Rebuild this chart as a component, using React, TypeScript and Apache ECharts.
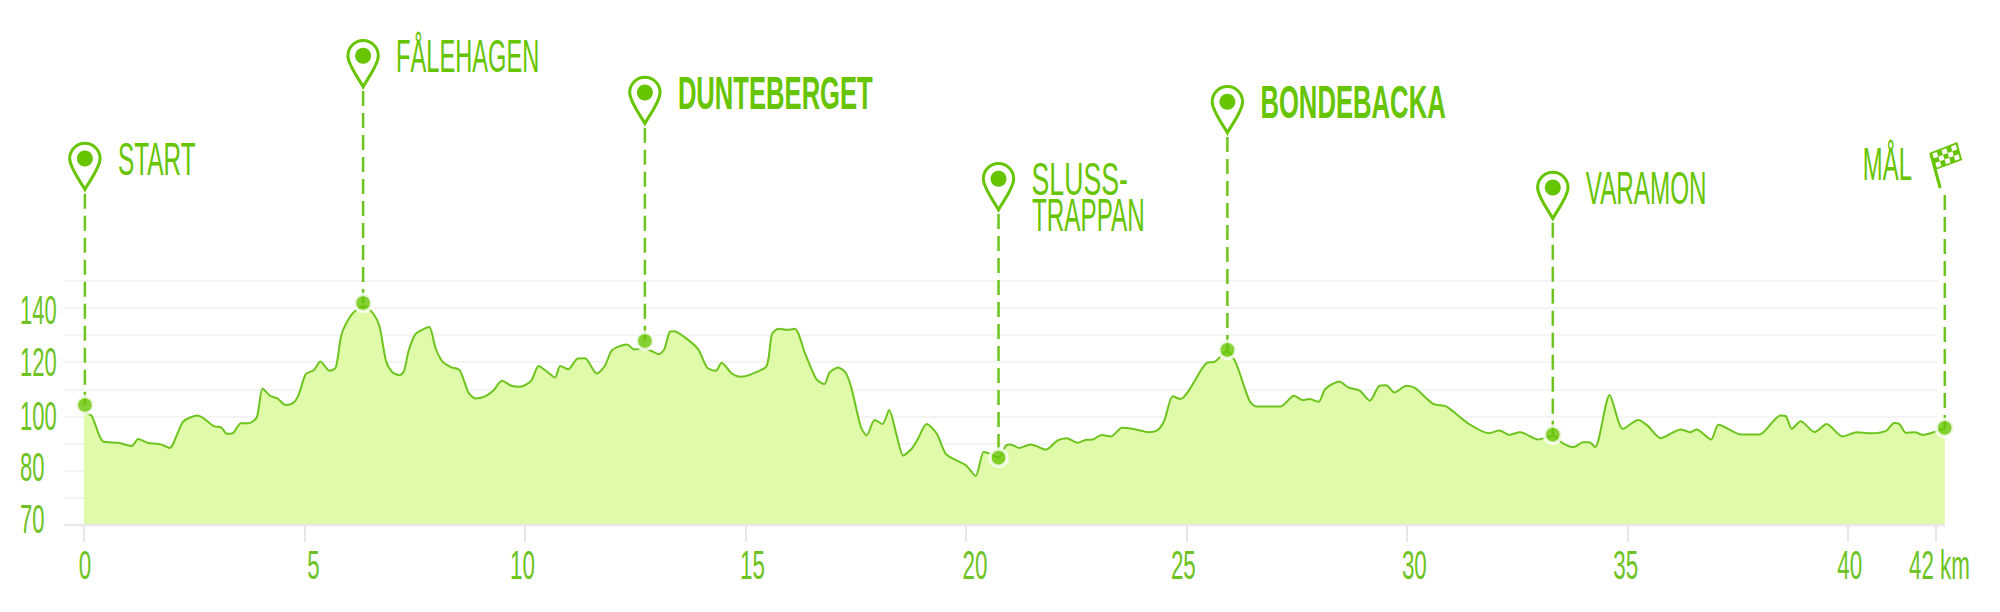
import React, { useEffect, useRef } from "react";
import * as echarts from "echarts";

const routeKm = [0,0.17,0.43,0.78,1.08,1.23,1.44,1.74,1.94,2.25,2.58,2.96,3.11,3.24,3.38,3.56,3.74,3.92,4.05,4.22,4.39,4.57,4.73,4.86,5.03,5.21,5.36,5.57,5.71,5.84,6.04,6.19,6.35,6.55,6.7,6.85,7,7.16,7.26,7.36,7.51,7.66,7.83,7.97,8.12,8.32,8.52,8.72,8.88,9.08,9.28,9.48,9.69,9.89,10.14,10.31,10.5,10.68,10.8,10.98,11.2,11.36,11.63,11.81,11.96,12.12,12.32,12.47,12.72,12.87,13.03,13.16,13.28,13.38,13.62,13.93,14.13,14.33,14.46,14.69,14.89,15.14,15.48,15.6,15.75,15.95,16.12,16.36,16.61,16.79,16.91,17.1,17.27,17.4,17.62,17.75,17.93,18.11,18.26,18.43,18.58,18.77,18.91,19.11,19.34,19.54,19.75,20,20.22,20.4,20.48,20.74,20.91,21.01,21.21,21.47,21.82,22.07,22.28,22.53,22.73,22.88,23.07,23.29,23.54,23.8,24.15,24.35,24.5,24.69,24.86,25.47,25.64,25.92,26.12,26.43,26.58,27.14,27.44,27.64,27.79,28,28.15,28.47,28.67,28.93,29.16,29.38,29.53,29.72,29.99,30.19,30.6,30.9,31.41,31.86,32.1,32.32,32.57,32.98,33.31,33.53,33.79,33.99,34.14,34.27,34.6,34.9,35.25,35.46,35.76,36.21,36.42,36.57,36.9,37.07,37.58,37.99,38.47,38.6,38.73,38.93,39.25,39.52,39.88,40.21,40.52,40.87,41.05,41.17,41.32,41.52,41.7,41.98,42.2];
const elevation = [101,100.3,90.8,90.3,89.1,91.7,90.3,89.7,88.4,98.1,100.3,96.3,96,93.6,93.9,97.5,97.5,99.7,110.3,107.6,106.6,104.2,104.8,107.6,115.6,117,120.2,116.8,118,130.2,136.9,139.4,140.6,138.1,133.3,120.4,116.2,115.2,116.8,124.1,130.2,131.8,132.9,125.3,120.4,118.2,117,108.8,106.6,107.3,109.5,113.1,111.3,110.9,113.1,118.6,116.5,114.3,118.6,117.4,121.3,121.4,115.8,118.6,124.1,125.7,126.5,124.7,125,124.1,122.9,124.7,131.1,131.4,129.2,124.7,118,116.8,119.8,115.8,114.6,115.6,118.6,130.2,132.3,131.9,132.3,122.9,113.7,111.9,116.2,118,116.2,110.7,96,93,98.7,97.2,102.4,93,85.6,88.1,91.7,97.2,93.6,86.3,84.1,82,78.1,86.9,86.6,85,89.3,89.7,88.4,89.7,87.8,91.1,92,90.3,91.4,91.5,93.2,92.6,95.8,95.4,94.2,95,98.5,107.4,106.4,119.8,120.1,124.1,119.8,105.8,103.7,103.7,107.6,106,106.4,105.4,110.1,112.9,110.7,109.5,105.8,111.3,111.5,108.8,111.3,110.4,104.6,103.6,97.2,93.8,94.8,93.2,94.2,91.5,93,90.2,88.7,90.5,90.5,88.7,107.9,95.4,98.7,96.6,92,95.2,94.2,95.2,91.5,96.9,93.3,93.3,100.3,100,95.4,98.2,94.2,97.2,92.6,94.2,93.8,94.7,97.6,97.2,93.9,94.2,93.2,94.4,95.8];

const markerNames = ["START", "FÅLEHAGEN", "DUNTEBERGET", "SLUSS-\nTRAPPAN", "BONDEBACKA", "VARAMON", "MÅL"];
const markerKm = [0.02, 6.33, 12.72, 20.74, 25.93, 33.31, 42.2];
const markerElevation = [104.2, 141.8, 127.8, 84.8, 124.5, 93.3, 95.8];

const yTickValues = [140, 120, 100, 80, 60];
const yTickLabels = ["140", "120", "100", "80", "70"];
const xTickValues = [0, 5, 10, 15, 20, 25, 30, 35, 40, 42];
const xTickLabels = ["0", "5", "10", "15", "20", "25", "30", "35", "40", "42 km"];

// Layout only (pixels)
const pinTop = [142.7, 40, 76.7, 163, 86, 171.7];
const labelScale = [[0.519], [0.503], [0.545], [0.568, 0.516], [0.546], [0.516], [0.509]];
const labelBold = [false, false, true, false, true, false, false];
const yLabelShift = [3, 0, 0, -3, -6];
const xLabelShift = [1, 9, -2.5, 7, 9, -3, 7.5, -1.5, 2, 3.5];

const GREEN = "#66c400";
const LINE = "#6ec41e";
const AXIS_TEXT = "#6cc322";
const FONT = "'Liberation Sans', sans-serif";
const PIN_D = "M0,31 C-5,22 -15.2,9 -15.2,0 A15.2,15.2 0 1 1 15.2,0 C15.2,9 5,22 0,31 Z";

function txt(text: string, x: number, y: number, scaleX: number, size: number, fill: string, bold: boolean, align: string) {
  return {
    type: "text", x, y, scaleX,
    style: {
      text, fontSize: size, fontFamily: FONT, fontWeight: bold ? "bold" : "normal", fill,
      align, textAlign: align, verticalAlign: "middle", textVerticalAlign: "middle",
    },
  };
}

function flag(x: number) {
  const A = [x - 15.6, 153], B = [x + 12.4, 142], C = [x + 17.4, 160], D = [x - 9.6, 170];
  const at = (u: number, v: number) => [
    A[0] + (B[0] - A[0]) * u + (D[0] - A[0]) * v + (C[0] - B[0] - D[0] + A[0]) * u * v,
    A[1] + (B[1] - A[1]) * u + (D[1] - A[1]) * v + (C[1] - B[1] - D[1] + A[1]) * u * v,
  ];
  const cells: any[] = [{ type: "polygon", shape: { points: [A, B, C, D] }, style: { fill: GREEN } }];
  for (let i = 0; i < 5; i++) {
    for (let j = 0; j < 3; j++) {
      if ((i + j) % 2 === 0) {
        const u0 = 0.08 + i * 0.17, v0 = 0.1 + j * 0.27;
        cells.push({
          type: "polygon",
          shape: { points: [at(u0, v0), at(u0 + 0.17, v0), at(u0 + 0.17, v0 + 0.27), at(u0, v0 + 0.27)] },
          style: { fill: "#ffffff" },
        });
      }
    }
  }
  cells.push({ type: "line", shape: { x1: x - 13.6, y1: 155, x2: x - 4.6, y2: 188 }, style: { stroke: GREEN, lineWidth: 3 } });
  return cells;
}

function renderMarker(params: any, api: any) {
  const i = params.dataIndex;
  const p = api.coord([markerKm[i], markerElevation[i]]);
  const x = p[0];
  const children: any[] = [];
  const isFinish = i === markerNames.length - 1;
  const top = isFinish ? 0 : pinTop[i];
  const dashStart = isFinish ? 195 : top + 51;
  children.push({
    type: "line",
    shape: { x1: x, y1: dashStart, x2: x, y2: p[1] },
    style: { stroke: LINE, lineWidth: 2.5, lineDash: [15, 7] },
  });
  const lines = markerNames[i].split("\n");
  if (isFinish) {
    children.push(...flag(x));
    children.push(txt(lines[0], x - 82, 164, labelScale[i][0], 47, GREEN, false, "left"));
  } else {
    const headY = top + 15.8;
    children.push({
      type: "path", x, y: headY,
      shape: { pathData: PIN_D },
      style: { fill: "none", stroke: GREEN, lineWidth: 3 },
    });
    children.push({ type: "circle", shape: { cx: x, cy: headY, r: 8 }, style: { fill: GREEN } });
    lines.forEach((line, k) => {
      children.push(txt(line, x + 33 + k * 0.5, top + 15.8 + k * 35.5, labelScale[i][k], 47, GREEN, labelBold[i], "left"));
    });
  }
  return { type: "group", children };
}

function renderAxisDecor(params: any, api: any) {
  const children: any[] = [];
  const a = api.coord([0, 60]);
  const b = api.coord([42.2, 60]);
  children.push({ type: "line", shape: { x1: a[0] - 20, y1: a[1], x2: b[0], y2: b[1] }, style: { stroke: "#e8e8e8", lineWidth: 2.5 } });
  yTickValues.forEach((v, i) => {
    const y = api.coord([0, v])[1] + yLabelShift[i];
    children.push(txt(yTickLabels[i], 20, y, 0.55, 40, AXIS_TEXT, false, "left"));
  });
  xTickValues.forEach((v, i) => {
    const x = api.coord([v, 60])[0] + xLabelShift[i];
    children.push(txt(xTickLabels[i], x, 565.7, 0.56, 40, AXIS_TEXT, false, "center"));
  });
  return { type: "group", children };
}

// The grid lines stop at km 42 while the course runs on to 42.2.
function renderGridEnd(params: any, api: any) {
  const a = api.coord([42, 150]);
  const b = api.coord([42.2, 60]);
  return {
    type: "rect",
    shape: { x: a[0] + 1, y: a[1] - 3, width: b[0] - a[0] + 2, height: b[1] - a[1] + 1 },
    style: { fill: "#ffffff" },
  };
}

export default function App() {
  const ref = useRef<HTMLDivElement>(null);
  useEffect(() => {
    const chart = echarts.init(ref.current!, undefined, { renderer: "svg" });
    chart.setOption({
      animation: false,
      backgroundColor: "#ffffff",
      grid: { left: 84, top: 280.7, width: 1860.8, height: 244.3, containLabel: false },
      xAxis: {
        type: "value", min: 0, max: 42.2,
        splitLine: { show: false },
        axisLine: { show: false },
        axisTick: { show: true, length: 17, customValues: xTickValues, lineStyle: { color: "#e6e6e6", width: 2 } },
        axisLabel: { show: false, customValues: xTickValues },
      },
      yAxis: {
        type: "value", min: 60, max: 150, interval: 10,
        splitLine: { show: true, lineStyle: { color: "#f4f4f4", width: 2 } },
        axisLine: { show: false },
        axisTick: { show: true, length: 20, lineStyle: { color: "#f4f4f4", width: 2 } },
        axisLabel: { show: false },
      },
      series: [
        { type: "custom", z: 1, clip: false, silent: true, data: [[42, 150]], renderItem: renderGridEnd },
        {
          type: "line", z: 2, clip: false, showSymbol: false, smooth: 0.25,
          data: routeKm.map((k, i) => [k, elevation[i]]),
          lineStyle: { color: LINE, width: 2 },
          areaStyle: { color: "#dffba9", origin: "start", opacity: 1 },
        },
        { type: "custom", z: 3, clip: false, silent: true, data: [[0, 60]], renderItem: renderAxisDecor },
        { type: "custom", z: 4, clip: false, silent: true, data: markerKm.map((k, i) => [k, markerElevation[i]]), renderItem: renderMarker },
        {
          type: "scatter", z: 5, clip: false, silent: true, symbolSize: 17,
          data: markerKm.map((k, i) => [k, markerElevation[i]]),
          itemStyle: { color: GREEN, borderColor: "#ffffff", borderWidth: 3.5 },
        },
      ],
    });
    return () => chart.dispose();
  }, []);
  return <div ref={ref} style={{ position: "fixed", left: 0, top: 0, width: 2000, height: 612 }} />;
}
